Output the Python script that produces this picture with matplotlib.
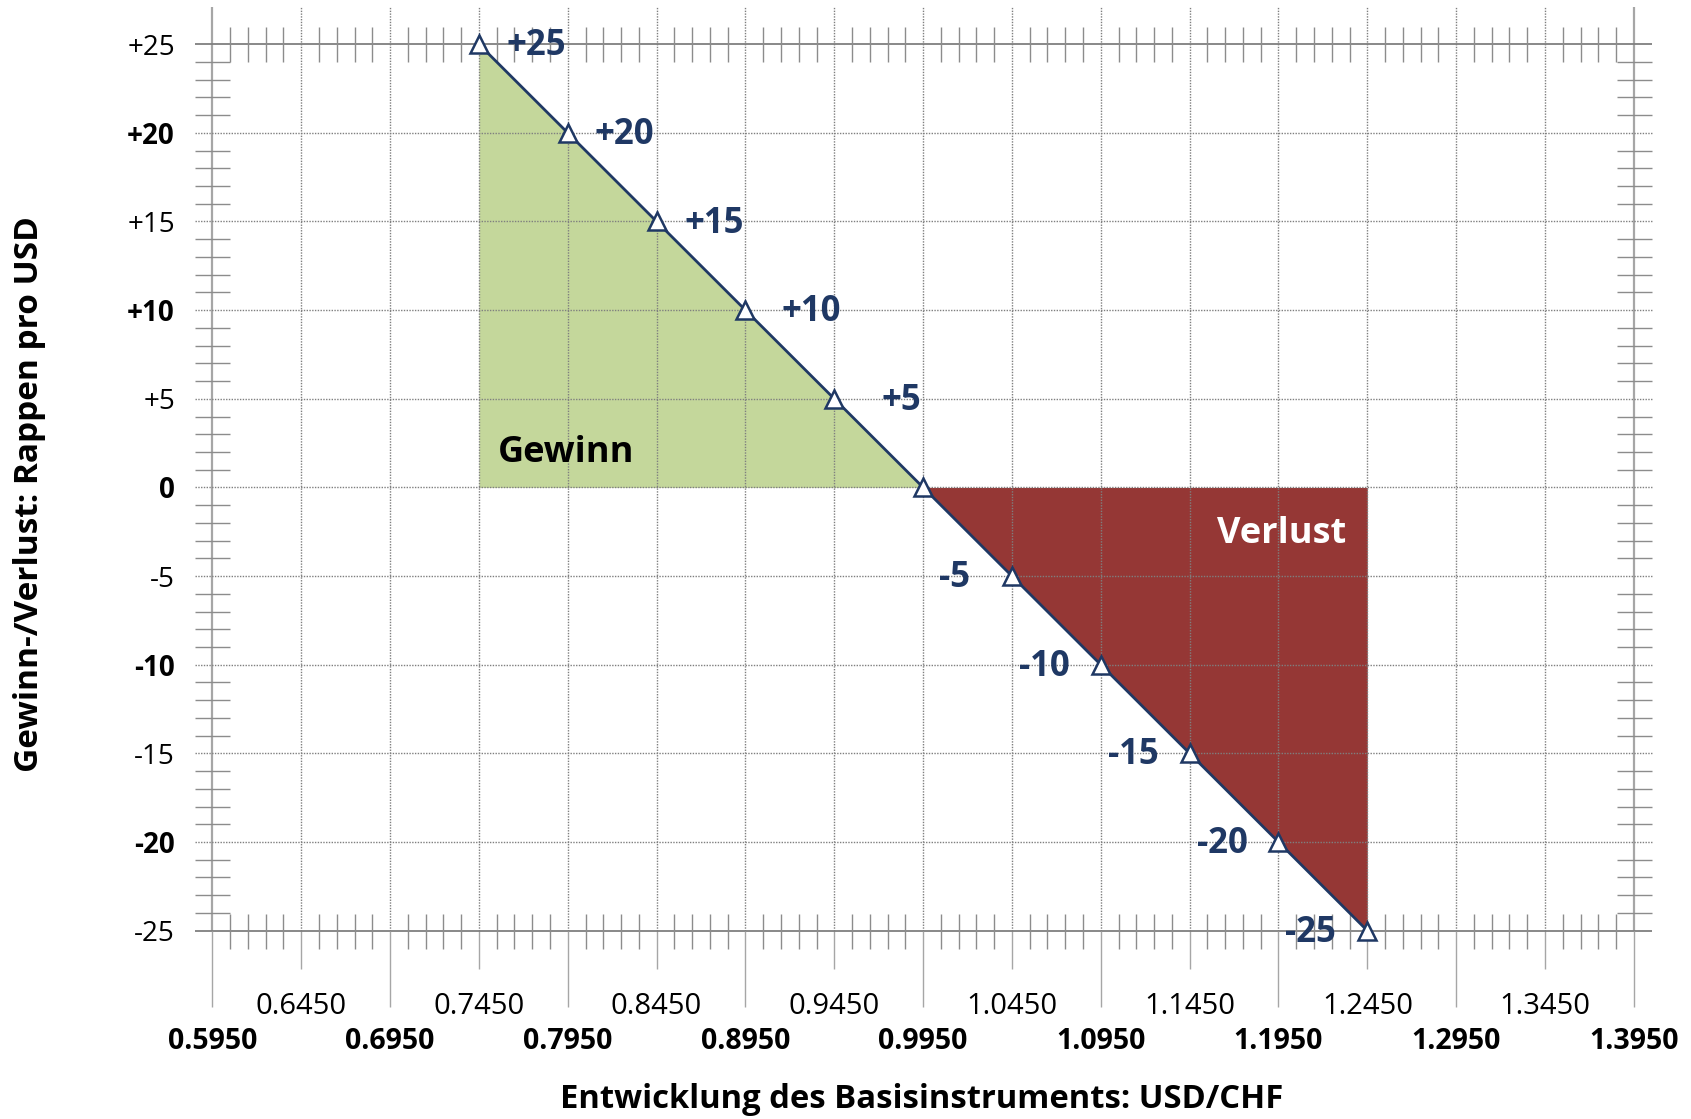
import matplotlib
matplotlib.use("Agg")
import matplotlib.pyplot as plt
from matplotlib.ticker import FixedLocator
import numpy as np

# payoff of a short USD/CHF forward at 0.9950
rates = [0.7450, 0.7950, 0.8450, 0.8950, 0.9450, 0.9950, 1.0450, 1.0950, 1.1450, 1.1950, 1.2450]
pnl = [25, 20, 15, 10, 5, 0, -5, -10, -15, -20, -25]
point_labels = ['+25', '+20', '+15', '+10', '+5', '', '-5', '-10', '-15', '-20', '-25']

bold_xticks = [0.5950, 0.6950, 0.7950, 0.8950, 0.9950, 1.0950, 1.1950, 1.2950, 1.3950]
light_xticks = [0.6450, 0.7450, 0.8450, 0.9450, 1.0450, 1.1450, 1.2450, 1.3450]
yticks = [-25, -20, -15, -10, -5, 0, 5, 10, 15, 20, 25]
ytick_labels = ['-25', '-20', '-15', '-10', '-5', '0', '+5', '+10', '+15', '+20', '+25']

# label offsets in points (hand placed in the original)
label_dx = [20, 19, 20, 26, 34, 0, -30, -22, -22, -22, -23]

plt.rcParams['font.family'] = ['Open Sans', 'DejaVu Sans']

navy = '#1f3864'
green = '#c4d79b'
red = '#953735'
gridc = '#7f7f7f'

fig = plt.figure(figsize=(16.91, 11.19), dpi=100)
ax = fig.add_axes([0.1256, 0.1683, 0.8406, 0.7922])
ax.set_xlim(0.595, 1.395)
ax.set_ylim(-25, 25)
for s in ax.spines.values():
    s.set_visible(False)

xmin, xmax = 0.595, 1.395
ytop = 27.1
xext = 0.01
dots = (0, (1, 1))

# grid
vgrid = np.round(np.arange(0.645, 1.3451, 0.05), 4)
ax.vlines(vgrid, -25, ytop, colors=gridc, linestyles=dots, linewidth=1, zorder=1, clip_on=False)
ax.vlines([xmin, xmax], -25, ytop, colors='#a6a6a6', linewidth=1.6, zorder=1, clip_on=False)
ax.hlines([v for v in yticks if abs(v) != 25], xmin - xext, xmax + xext, colors=gridc,
          linestyles=dots, linewidth=1, zorder=1, clip_on=False)
ax.hlines([-25, 25], xmin - xext, xmax + xext, colors='#7f7f7f', linewidth=1.3, zorder=1, clip_on=False)

# fills
ax.fill_between(rates[:6], pnl[:6], 0, color=green, linewidth=0, zorder=0.5)
ax.fill_between(rates[5:], pnl[5:], 0, color=red, linewidth=0, zorder=0.5)

ax.plot(rates, pnl, color=navy, linewidth=2.0, marker='^', markersize=13.5,
        markerfacecolor='white', markeredgecolor=navy, markeredgewidth=1.8, zorder=4, clip_on=False)

for x, y, lab, dx in zip(rates, pnl, point_labels, label_dx):
    if not lab:
        continue
    ax.annotate(lab, (x, y), xytext=(dx, -1.5), textcoords='offset points',
                ha='left' if dx > 0 else 'right', va='center',
                fontsize=25, fontweight='bold', color=navy, zorder=5)

ax.text(0.7557, 1.95, 'Gewinn', fontsize=26, fontweight='bold', color='black',
        ha='left', va='center', zorder=5)
ax.text(1.233, -2.65, 'Verlust', fontsize=26, fontweight='bold', color='white',
        ha='right', va='center', zorder=5)

# x ticks: bold row on the main axis, light row on a secondary axis
ax.set_xticks(bold_xticks, ['%.4f' % v for v in bold_xticks])
minor_x = [v for v in np.round(np.arange(0.595, 1.3951, 0.01), 4)
           if not np.isclose((v - 0.595) / 0.05, round((v - 0.595) / 0.05))]
ax.xaxis.set_minor_locator(FixedLocator(minor_x))
ax.tick_params(axis='x', which='major', direction='out', length=55, width=1, color='#a6a6a6',
               labelsize=20.5, pad=14.5, top=False, bottom=True)
for t in ax.get_xticklabels():
    t.set_fontweight('bold')
ax.tick_params(axis='x', which='minor', direction='inout', length=25.2, width=1, color='#8c8c8c',
               top=True, bottom=True)

sec = ax.secondary_xaxis('bottom')
sec.spines['bottom'].set_visible(False)
sec.set_xticks(light_xticks, ['%.4f' % v for v in light_xticks])
sec.tick_params(axis='x', direction='out', length=27.6, width=1, color='#a6a6a6',
                labelsize=21, pad=16.5)

# y ticks
ax.set_yticks(yticks, ytick_labels)
for i, t in enumerate(ax.get_yticklabels()):
    if i % 2 == 1:
        t.set_fontweight('bold')
minor_y = [v for v in range(-24, 25) if v % 5 != 0]
ax.yaxis.set_minor_locator(FixedLocator(minor_y))
ax.tick_params(axis='y', which='major', length=0, labelsize=20, pad=27)
ax.tick_params(axis='y', which='minor', direction='inout', length=25.2, width=1, color='#8c8c8c',
               left=True, right=True)

fig.text(922 / 1691, 1 - 1100 / 1119, 'Entwicklung des Basisinstruments: USD/CHF',
         fontsize=23.6, fontweight='bold', ha='center', va='center')
fig.text(30 / 1691, 1 - 494 / 1119, 'Gewinn-/Verlust: Rappen pro USD',
         fontsize=24, fontweight='bold', ha='center', va='center', rotation=90)

fig.savefig('out.png', dpi=100)
